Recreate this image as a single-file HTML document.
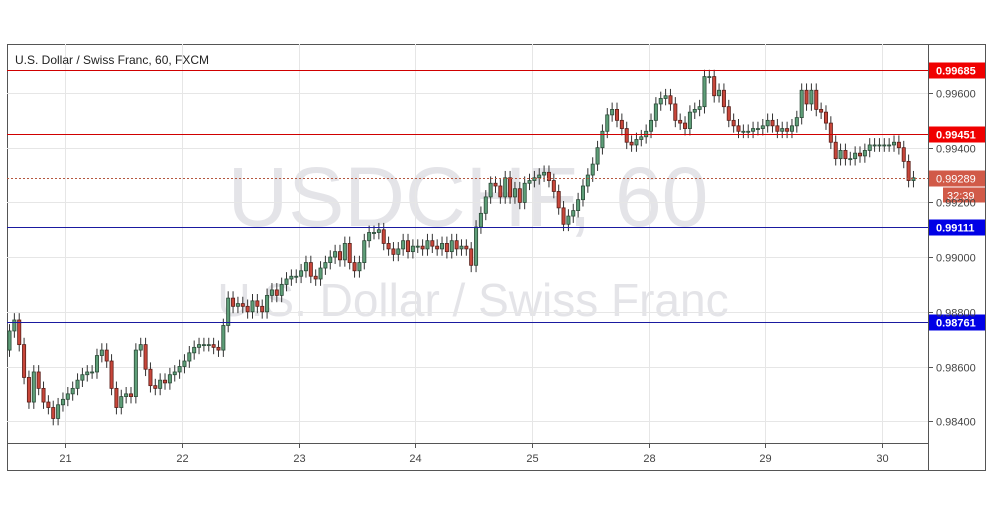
<!DOCTYPE html>
<html><head><meta charset="utf-8"><style>
body{margin:0;background:#fff;width:991px;height:507px;overflow:hidden;font-family:"Liberation Sans",sans-serif}
svg{display:block}
</style></head><body>
<svg id="chart" width="991" height="507" xmlns="http://www.w3.org/2000/svg">
<rect x="7.5" y="44.5" width="978" height="426" fill="#fff" stroke="#555"/>
<text x="468" y="226" font-size="84" fill="#e4e4e8" text-anchor="middle">USDCHF, 60</text>
<text x="473" y="316" font-size="46" fill="#e4e4e8" text-anchor="middle">U.S. Dollar / Swiss Franc</text>
<g id="grid"></g><g id="candles"></g><g id="levels"></g><g id="axes"></g>
<line x1="928.5" y1="44" x2="928.5" y2="470" stroke="#555"/>
<line x1="7" y1="443.5" x2="928" y2="443.5" stroke="#555"/>
<text x="15" y="64" font-size="12" fill="#222">U.S. Dollar / Swiss Franc, 60, FXCM</text>
</svg>
<script>
const closes=[0.9873,0.9877,0.9868,0.9856,0.9847,0.9858,0.9852,0.9847,0.9845,0.9841,0.9846,0.9848,
0.9850,0.9852,0.9855,0.9857,0.9858,0.9858,0.9864,0.9866,0.9862,0.9852,0.9845,0.9849,0.9850,0.9849,0.9866,0.9868,0.9859,0.9853,0.9852,0.9855,0.9854,0.9857,0.9858,0.9860,
0.9862,0.9865,0.9867,0.9868,0.9868,0.9868,0.9867,0.9866,0.9875,0.9885,0.9882,0.9883,0.9882,0.9880,0.9884,0.9882,0.9880,0.9886,0.9888,0.9886,0.9890,0.9892,0.9893,0.9893,
0.9895,0.9898,0.9893,0.9892,0.9896,0.9898,0.9900,0.9902,0.9899,0.9905,0.9898,0.9895,0.9898,0.9906,0.9909,0.9909,0.9910,0.9905,0.9903,0.9901,0.9903,0.9906,0.9902,0.9904,
0.9904,0.9903,0.9906,0.9904,0.9903,0.9905,0.9902,0.9906,0.9903,0.9904,0.9903,0.9897,0.9911,0.9916,0.9922,0.9927,0.9926,0.9922,0.9929,0.9922,0.9925,0.9920,0.9927,0.9928,
0.9929,0.9930,0.9931,0.9928,0.9924,0.9918,0.9912,0.9915,0.9917,0.9921,0.9926,0.9930,0.9934,0.9940,0.9946,0.9952,0.9954,0.9950,0.9947,0.9942,0.9941,0.9943,0.9944,0.9946,
0.9950,0.9956,0.9958,0.9959,0.9956,0.9950,0.9949,0.9947,0.9953,0.9954,0.9955,0.9966,0.9966,0.9959,0.9961,0.9955,0.9950,0.9948,0.9946,0.9946,0.9946,0.9947,0.9947,0.9948,
0.9950,0.9948,0.9946,0.9947,0.9946,0.9948,0.9951,0.9961,0.9956,0.9961,0.9954,0.9953,0.9949,0.9942,0.9936,0.9939,0.9936,0.9936,0.9938,0.9937,0.9939,0.9941,0.9941,0.9941,
0.9941,0.9941,0.9942,0.9940,0.9935,0.9928,0.9929];
const firstOpen=0.9866;
const yTicks=[0.996,0.994,0.992,0.990,0.988,0.986,0.984];
const yTickLabels=["0.99600","0.99400","0.99200","0.99000","0.98800","0.98600","0.98400"];
const dayLabels=["21","22","23","24","25","28","29","30"];
const dayStartIdx=[12,36,60,84,108,132,156,180];
const resistance=[0.99685,0.99451];
const support=[0.99111,0.98761];
const lastPrice=0.99289;
const countdown="32:39";
const NS="http://www.w3.org/2000/svg";
const Y=v=>93+(0.996-v)/0.002*54.7;
const X=i=>9.5+i*4.86;
function mk(tag,attrs,parent,txt){const e=document.createElementNS(NS,tag);for(const k in attrs)e.setAttribute(k,attrs[k]);if(txt!==undefined)e.textContent=txt;document.getElementById(parent).appendChild(e);return e;}
yTicks.forEach((t,k)=>{const y=Math.round(Y(t))+0.5;
 const g=mk('line',{x1:7,x2:928,y1:y,y2:y,stroke:'#e6e6e6'},'grid');
 
 
 const tk=mk('line',{x1:928,x2:933,y1:y,y2:y,stroke:'#555'},'axes');
 
 
 const l=mk('text',{x:936,y:y+4,'font-size':11,fill:'#444'},'axes',yTickLabels[k]);
 
 
});
dayStartIdx.forEach((d,k)=>{const x=Math.round(X(d)-2.5)+0.5;
 const g=mk('line',{x1:x,x2:x,y1:44,y2:443,stroke:'#e6e6e6'},'grid');
 
 
 const tk=mk('line',{x1:x,x2:x,y1:443,y2:448,stroke:'#555'},'axes');
 
 
 const l=mk('text',{x:x,y:462,'font-size':11,fill:'#444','text-anchor':'middle'},'axes',dayLabels[k]);
 
 
});
closes.forEach((c,i)=>{const o=i?closes[i-1]:firstOpen;const up=c>=o;
 const hi=Math.max(o,c)+0.00025,lo=Math.min(o,c)-0.00025;const x=X(i);
 const w=mk('line',{x1:x,x2:x,y1:Y(hi),y2:Y(lo),stroke:'#333','stroke-width':1},'candles');
 
 
 const top=Y(Math.max(o,c)),h=Math.max(1,Y(Math.min(o,c))-top);
 const b=mk('rect',{x:x-1.6,y:top,width:3.2,height:h,fill:up?'#5e9e78':'#c8463a',stroke:up?'#2a4a37':'#5a1e18','stroke-width':0.8},'candles');
 
 
});
function level(v,color,box,label,name){const y=Math.round(Y(v))+0.5;
 const l=mk('line',{x1:7,x2:928,y1:y,y2:y,stroke:color,'stroke-width':1},'levels');
 
 
 const r=mk('rect',{x:929,y:y-8,width:56,height:16,fill:box},'levels');
 
 
 const t=mk('text',{x:936,y:y+4,'font-size':11,'font-weight':'bold',fill:'#fff'},'levels',label);
 
 }
resistance.forEach((v,k)=>level(v,'#d00000','#f00000',v.toFixed(5),'resistance-'+(k+1)));
support.forEach((v,k)=>level(v,'#1a1aa0','#0000e6',v.toFixed(5),'support-'+(k+1)));
const py=Math.round(Y(lastPrice))+0.5;
const pl=mk('line',{x1:7,x2:928,y1:py,y2:py,stroke:'#b5573f','stroke-dasharray':'2,2'},'levels');


const pb=mk('rect',{x:929,y:py-8,width:56,height:16,fill:'#d15a48'},'levels');


const pt=mk('text',{x:936,y:py+4,'font-size':11,fill:'#fff'},'levels',lastPrice.toFixed(5));


const cb=mk('rect',{x:943,y:py+9,width:42,height:15,fill:'#d15a48'},'levels');


const ct=mk('text',{x:947,y:py+21,'font-size':11,fill:'#fff'},'levels',countdown);


</script>
</body></html>
